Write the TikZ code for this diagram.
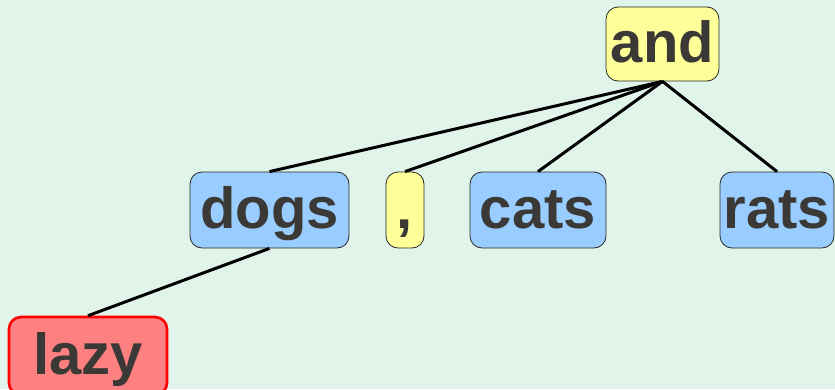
\documentclass[tikz,border=0pt]{standalone}
\usepackage{fontspec}
\setmainfont{Liberation Sans}
\definecolor{bgc}{RGB}{224,244,234}
\definecolor{yel}{RGB}{255,255,153}
\definecolor{blu}{RGB}{153,204,255}
\definecolor{redf}{RGB}{255,128,128}
\definecolor{txt}{RGB}{59,57,53}
\definecolor{edg}{RGB}{40,40,40}
\begin{document}
\begin{tikzpicture}[x=1pt,y=-1pt,
  word/.style={rectangle,rounded corners=12pt,draw=edg,line width=0.8pt,inner sep=0pt,
    font=\fontsize{58}{58}\selectfont\bfseries,text=txt,minimum height=76pt,
    text height=41pt,text depth=5pt},
  yword/.style={word,fill=yel},
  bword/.style={word,fill=blu},
  rword/.style={word,fill=redf,draw=red,line width=2.6pt},
  link/.style={line width=3pt,black}]
\useasboundingbox (0,0) rectangle (835,389);
\fill[bgc] (0,0) rectangle (835,389);
\clip (0,0) rectangle (835,389);
\node[yword,minimum width=113pt,minimum height=74pt] (and) at (662.5,44) {and};
\node[bword,minimum width=159pt] (dogs) at (269.5,210) {dogs};
\node[yword,minimum width=38pt] (comma) at (405,210) {,};
\node[bword,minimum width=136pt] (cats) at (538,210) {cats};
\node[bword,minimum width=114pt] (rats) at (777,210) {rats};
\node[rword,minimum width=158pt,minimum height=78pt] (lazy) at (88,356) {lazy};
\draw[link] (and.south) -- (dogs.north);
\draw[link] (and.south) -- (comma.north);
\draw[link] (and.south) -- (cats.north);
\draw[link] (and.south) -- (rats.north);
\draw[link] (dogs.south) -- (lazy.north);
\end{tikzpicture}
\end{document}
